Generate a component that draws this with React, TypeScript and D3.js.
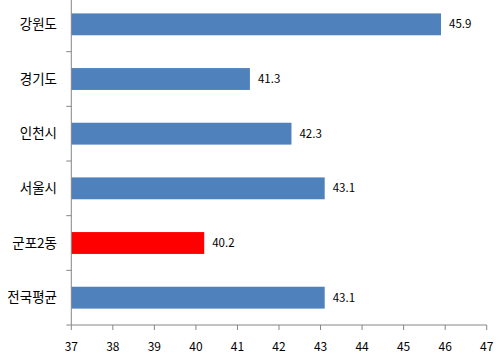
import React from "react";
import * as d3 from "d3";

const categories = ["강원도", "경기도", "인천시", "서울시", "군포2동", "전국평균"];
const values = [45.9, 41.3, 42.3, 43.1, 40.2, 43.1];
const highlight = ["군포2동"];
const xTicks = [37, 38, 39, 40, 41, 42, 43, 44, 45, 46, 47];

const W = 499;
const H = 359;
const left = 71.3;
const right = 486.7;
const bottom = 325;
const top = -3;

export default function App() {
  const x = d3.scaleLinear().domain([37, 47]).range([left, right]);
  const y = d3.scaleBand<string>().domain(categories).range([top, bottom]).paddingInner(0.6).paddingOuter(0.3);
  const band = d3.scaleBand<string>().domain(categories).range([top, bottom]);
  const axisColor = "#868686";
  const font = "'Noto Sans CJK KR', 'Noto Sans', sans-serif";
  return (
    <svg width={W} height={H} style={{ position: "absolute", left: 0, top: 0, background: "#fff" }} fontFamily={font}>
      {categories.map((c, i) => (
        <g key={c}>
          <rect x={x(37)} y={y(c)} width={x(values[i]) - x(37)} height={y.bandwidth()}
            fill={highlight.includes(c) ? "#FF0000" : "#4F81BD"} />
          <text x={x(values[i]) + 8} y={(y(c) as number) + y.bandwidth() / 2} dy="0.35em" fontSize={11.5} fill="#000">
            {values[i].toFixed(1)}
          </text>
          <text x={57} y={(band(c) as number) + band.bandwidth() / 2} dy="0.35em" textAnchor="end" fontSize={13.5} fill="#000">
            {c}
          </text>
        </g>
      ))}
      <line x1={left} x2={left} y1={0} y2={bottom} stroke={axisColor} />
      {categories.map((c) => (
        <line key={"t" + c} x1={left - 5} x2={left} y1={(band(c) as number)} y2={(band(c) as number)} stroke={axisColor} />
      ))}
      <line x1={left - 5} x2={left} y1={bottom} y2={bottom} stroke={axisColor} />
      <line x1={left} x2={right} y1={bottom} y2={bottom} stroke={axisColor} />
      {xTicks.map((t) => (
        <g key={t}>
          <line x1={x(t)} x2={x(t)} y1={bottom} y2={bottom + 5} stroke={axisColor} />
          <text x={x(t)} y={347} dy="0.35em" textAnchor="middle" fontSize={12} fill="#000">{t}</text>
        </g>
      ))}
    </svg>
  );
}
